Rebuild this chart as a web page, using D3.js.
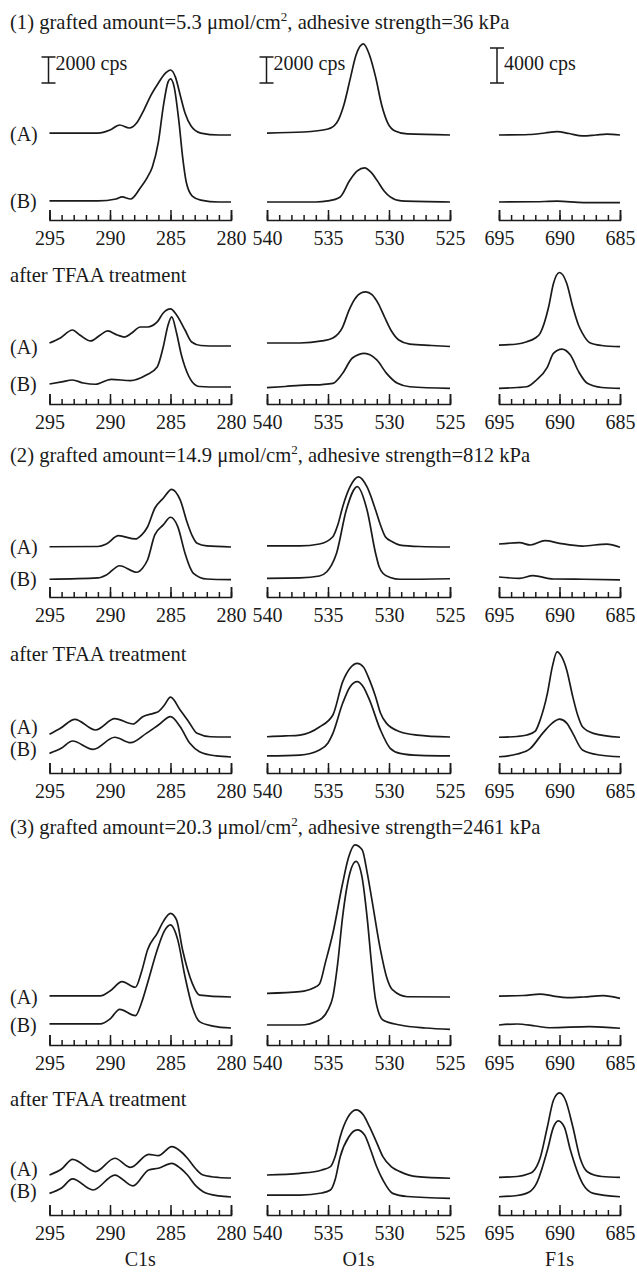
<!DOCTYPE html>
<html>
<head>
<meta charset="utf-8">
<script src="https://cdn.jsdelivr.net/npm/d3@7"></script>
<style>
  body { margin: 0; background: #fff; }
  svg { display: block; }
  text { font-family: "Liberation Serif", "Times New Roman", serif; fill: #1a1a1a; }
</style>
</head>
<body>
<svg width="637" height="1273"></svg>
<script>
// ---- Data: XPS spectra, [binding energy (eV), intensity (cps above baseline)]
const elements = ['C1s', 'O1s', 'F1s'];
const energyDomains = [[295, 280], [540, 525], [695, 685]];
const energyTicks = [[295, 290, 285, 280], [540, 535, 530, 525], [695, 690, 685]];
const scaleBarCps = [2000, 2000, 4000];
const sampleLabels = ['(A)', '(B)'];
const headings = [
    ['(1) grafted amount=5.3 \u03bcmol/cm', '2', ', adhesive strength=36 kPa'],
    ['after TFAA treatment'],
    ['(2) grafted amount=14.9 \u03bcmol/cm', '2', ', adhesive strength=812 kPa'],
    ['after TFAA treatment'],
    ['(3) grafted amount=20.3 \u03bcmol/cm', '2', ', adhesive strength=2461 kPa'],
    ['after TFAA treatment']
];

// (1) before TFAA
const c1s_1A = [[295,150],[291,150],[290,390],[289.2,770],[288.4,540],[287.8,920],[287.2,1920],[286.6,3080],[286,4000],[285.4,4770],[285,5000],[284.6,4470],[284.2,3080],[283.8,1690],[283.3,690],[282.5,150],[281,0],[280,0]];
const c1s_1B = [[295,80],[291,80],[289.5,230],[289,390],[288.3,230],[287.5,1080],[286.9,1920],[286.5,2700],[286,4620],[285.6,7320],[285.2,9240],[285,9470],[284.7,8860],[284.3,6160],[284,3470],[283.7,1540],[283.2,460],[282.5,150],[281,0],[280,0]];
const o1s_1A = [[540,150],[537,230],[535,460],[534.3,920],[533.7,2310],[533.2,4240],[532.7,6160],[532.1,7010],[531.6,6160],[531.1,4470],[530.6,2310],[530.1,920],[529.5,310],[528.5,80],[525,0]];
const o1s_1B = [[540,0],[536,0],[535,80],[534,390],[533.2,1690],[532.6,2390],[532,2620],[531.5,2310],[531,1690],[530.4,850],[529.9,390],[529,80],[525,0]];
const f1s_1A = [[695,0],[692.5,60],[691.2,230],[690.2,380],[689.2,170],[688.1,-110],[687,0],[686.1,110],[685,0]];
const f1s_1B = [[695,0],[692,30],[690.2,90],[688,-60],[685,-60]];

// (1) after TFAA
const c1s_2A = [[295,230],[294.1,620],[293.1,1230],[292.5,850],[291.6,390],[290.8,850],[290.2,1160],[289.4,850],[288.8,690],[288.2,1000],[287.5,1460],[286.9,1460],[286.1,1850],[285.6,2540],[285,2850],[284.5,2390],[283.8,1230],[283.25,310],[282.5,40],[281,0],[280,0]];
const c1s_2B = [[295,230],[294,390],[293.1,540],[292.2,310],[291.2,210],[289.9,590],[288.3,490],[287,920],[286.1,1540],[285.6,3080],[285.2,4770],[284.9,5390],[284.5,4160],[284.1,2460],[283.8,1540],[283.2,390],[282.6,40],[281,0],[280,0]];
const o1s_2A = [[540,230],[537.3,230],[535.5,390],[534.6,620],[533.8,1460],[533.3,2700],[532.8,3620],[532.3,4080],[531.9,4160],[531.4,3950],[530.9,3300],[530.4,2300],[529.8,1150],[529.2,460],[528.3,150],[526.5,40],[525,-40]];
const o1s_2B = [[540,-50],[538.5,40],[537.3,130],[535.5,190],[534.6,280],[533.8,1050],[533,2230],[532,2590],[531,2080],[530.2,1050],[529.3,280],[528.3,20],[525,-100]];
const f1s_2A = [[695,110],[693.5,230],[692.7,490],[692,910],[691.6,1450],[690.9,4450],[690.5,7150],[690,8400],[689.4,7150],[688.9,4450],[688.4,2280],[688.1,1450],[687.5,380],[686.5,60],[685,-80]];
const f1s_2B = [[695,-150],[693.5,-60],[692.7,30],[691.9,800],[691,2280],[690.5,3840],[689.8,4330],[689.1,3650],[688.4,1710],[687.7,420],[686.5,-60],[685,-150]];

// (2) before TFAA
const c1s_3A = [[295,20],[291,40],[290.3,230],[289.3,870],[287.9,620],[287.4,920],[286.9,1540],[286.3,2980],[285.6,3750],[284.9,4440],[284.2,3620],[283.6,1820],[283.2,850],[282.8,280],[282,80],[280,0]];
const c1s_3B = [[295,-20],[291,80],[290.3,310],[289.2,1020],[287.8,520],[287.3,850],[286.9,1460],[286.3,3390],[285.6,4160],[285,4750],[284.4,4030],[283.8,1980],[283.4,920],[283.1,440],[282,0],[280,-50]];
const o1s_3A = [[540,80],[537.3,80],[535.7,230],[534.6,790],[534.2,1690],[533.8,3080],[533.2,4620],[532.5,5390],[531.8,4620],[531.1,2850],[530.7,1690],[530.3,790],[529.7,390],[529.1,150],[527.5,40],[525,0]];
const o1s_3B = [[540,50],[537.3,80],[535.7,230],[535.1,560],[534.7,1080],[534.3,1980],[533.5,5310],[532.6,7110],[531.8,5310],[531.1,1980],[530.8,920],[530.5,440],[529.9,120],[529.1,-20],[525,20]];
const f1s_3A = [[695,340],[693.3,490],[692.4,230],[691.2,720],[690,420],[688.1,110],[686.1,340],[685,-30]];
const f1s_3B = [[695,230],[693.3,80],[692.2,380],[690.5,0],[688,-30],[685,-110]];

// (2) after TFAA
const c1s_4A = [[295,210],[294.1,670],[292.9,1360],[291.2,540],[289.6,1410],[288.1,1000],[287.3,1560],[286.4,1820],[286,1950],[285.5,2460],[285,3060],[284.2,2080],[283.5,1180],[282.8,280],[281.7,20],[280,0]];
const c1s_4B = [[295,280],[294,690],[293.1,1230],[291.4,590],[289.6,1520],[288.3,1100],[287,1820],[286,2460],[285,3100],[284.2,2330],[283.4,1050],[282.6,410],[281.2,80],[280,0]];
const o1s_4A = [[540,20],[538.5,80],[537.3,150],[535.7,770],[534.6,1690],[533.8,4240],[533.2,5290],[532.6,5670],[532.1,5390],[531.6,4390],[531.1,3100],[530.7,1850],[530.2,1050],[529.1,410],[527.7,150],[525,0]];
const o1s_4B = [[540,80],[537.3,150],[535.7,540],[535,1080],[534.6,1820],[533.8,4130],[533.2,5390],[532.6,5800],[532.1,5390],[531.6,4390],[530.7,2080],[529.9,670],[529.1,280],[527.5,120],[525,80]];
const f1s_4A = [[695,-30],[693.5,60],[692.7,230],[692,680],[691.6,1940],[691,4980],[690.6,7980],[690.2,9720],[689.8,9120],[689.4,7640],[688.9,4590],[688.5,2510],[688.1,1170],[687.2,420],[685,-30]];
const f1s_4B = [[695,30],[693.5,340],[692.4,990],[691.4,2700],[690.6,3880],[690,4330],[689.4,3880],[688.9,2700],[688.1,800],[686.7,230],[685,30]];

// (3) before TFAA
const c1s_5A = [[295,80],[290.8,80],[290,460],[289,1180],[287.9,750],[287.4,1920],[286.9,3620],[286.1,4900],[285.6,5800],[285,6440],[284.5,5930],[284,3620],[283.6,2160],[283.2,1050],[282.6,150],[280,0]];
const c1s_5B = [[295,310],[290.8,310],[290,690],[289.2,1440],[287.9,950],[287.4,1920],[286.9,3440],[286.1,6000],[285.5,7470],[285,7930],[284.4,6780],[283.8,3950],[283.2,1640],[282.6,490],[281.5,150],[280,0]];
const o1s_5A = [[540,280],[537.3,410],[536.2,690],[535.7,1000],[535.2,2700],[534.6,4900],[533.8,8750],[533.3,10780],[532.8,11700],[532.2,11320],[531.8,9630],[531.4,7470],[530.7,3620],[530.2,1540],[529.7,540],[528.5,20],[525,0]];
const o1s_5B = [[540,230],[537.3,230],[535.7,620],[535,1390],[534.6,2410],[534.2,5010],[533.8,8570],[533.2,11940],[532.7,12810],[532.2,11550],[531.8,8570],[531.4,4620],[531.1,2160],[530.5,620],[529.1,230],[527,0],[525,-100]];
const f1s_5A = [[695,110],[693,170],[691.6,340],[690.5,110],[689.4,-80],[688,0],[686.4,150],[685,-150]];
const f1s_5B = [[695,340],[693.5,460],[692,230],[690.8,30],[687.5,150],[685,-30]];

// (3) after TFAA
const c1s_6A = [[295,230],[294,690],[293.1,1440],[291.2,490],[289.6,1520],[288.3,820],[286.8,1820],[286,1720],[284.9,2410],[284.2,2080],[283.6,1520],[282.9,690],[282.3,230],[281,40],[280,0]];
const c1s_6B = [[295,280],[294,690],[293.1,1390],[291.4,540],[289.6,1690],[288.1,850],[286.8,2080],[286,2210],[284.9,2590],[284.2,2230],[283.6,1690],[282.9,850],[282.3,410],[281,80],[280,0]];
const o1s_6A = [[540,230],[537.3,360],[535.5,620],[534.8,870],[534.4,1690],[534,3180],[533.4,4620],[532.7,5240],[532.1,4850],[531.6,3950],[531,2700],[530.5,1640],[529.8,850],[529.1,490],[527.7,100],[525,-20]];
const o1s_6B = [[540,150],[537.3,150],[535.5,310],[534.8,540],[534.4,1390],[534,3100],[533.3,4620],[532.6,5160],[532,4770],[531.6,3870],[531,2310],[530.5,1310],[529.7,280],[528.5,40],[525,-100]];
const f1s_6A = [[695,80],[693.5,170],[692.6,460],[692.2,720],[691.6,2280],[691,5850],[690.5,8890],[690,9720],[689.5,8890],[688.9,5850],[688.3,2280],[687.7,720],[686.5,170],[685,80]];
const f1s_6B = [[695,30],[693.5,170],[692.5,570],[691.9,1560],[691,5360],[690.5,7980],[690.1,8700],[689.6,7980],[689.1,5360],[688.1,1560],[687.2,420],[685,30]];

// rows x columns x [A, B]
const spectra = [
    [[c1s_1A, c1s_1B], [o1s_1A, o1s_1B], [f1s_1A, f1s_1B]],
    [[c1s_2A, c1s_2B], [o1s_2A, o1s_2B], [f1s_2A, f1s_2B]],
    [[c1s_3A, c1s_3B], [o1s_3A, o1s_3B], [f1s_3A, f1s_3B]],
    [[c1s_4A, c1s_4B], [o1s_4A, o1s_4B], [f1s_4A, f1s_4B]],
    [[c1s_5A, c1s_5B], [o1s_5A, o1s_5B], [f1s_5A, f1s_5B]],
    [[c1s_6A, c1s_6B], [o1s_6A, o1s_6B], [f1s_6A, f1s_6B]]
];

// ---- Layout
const svg = d3.select('svg');
const ink = '#1a1a1a';
const fontSize = 20;
const headSize = 20.6;
const colX = [[49.5, 231], [267, 450], [499, 620]];
const barPx = [26, 26, 35];
const barX = [48.5, 266.5, 497];
const barBottom = 83;
const rows = [
    { heading: 29,   axis: 220,  base: [135, 202],   label: [135, 202] },
    { heading: 282,  axis: 404,  base: [346, 387],   label: [348, 385] },
    { heading: 462,  axis: 597,  base: [547, 579],   label: [548, 580] },
    { heading: 661,  axis: 773,  base: [737, 757],   label: [728, 750] },
    { heading: 834,  axis: 1045, base: [997, 1028],  label: [998, 1026] },
    { heading: 1106, axis: 1215, base: [1178, 1197], label: [1170, 1192] }
];

// ---- Escalas
const xScales = energyDomains.map((dom, i) => d3.scaleLinear().domain(dom).range(colX[i]));
const yScales = scaleBarCps.map((cps, i) => d3.scaleLinear().domain([0, cps]).range([0, -barPx[i]]));

// ---- Rows
rows.forEach((row, r) => {
    const head = svg.append('text')
        .attr('x', 10)
        .attr('y', row.heading)
        .attr('font-size', headSize);
    headings[r].forEach((part, j) => {
        const sup = j === 1;
        head.append('tspan')
            .attr('dy', j === 0 ? 0 : (sup ? -8 : 8))
            .attr('font-size', sup ? 13 : headSize)
            .text(part);
    });

    svg.selectAll(null)
        .data(sampleLabels)
        .join('text')
        .attr('x', 10)
        .attr('y', (d, k) => row.label[k] + 6)
        .attr('font-size', fontSize)
        .text(d => d);

    elements.forEach((el, c) => {
        const x = xScales[c];
        const y = yScales[c];

        // Eixo principal
        const g = svg.append('g')
            .attr('transform', `translate(0, ${row.axis})`)
            .call(d3.axisBottom(x)
                .tickValues(energyTicks[c])
                .tickSizeInner(-10)
                .tickSizeOuter(-10)
                .tickPadding(11)
                .tickFormat(d3.format('d')))
            .attr('font-size', fontSize)
            .attr('font-family', '"Liberation Serif", "Times New Roman", serif')
            .attr('color', ink);
        g.selectAll('line, path').attr('stroke-width', 1.5);

        // Ticks menores
        const lo = Math.min(...energyDomains[c]);
        const hi = Math.max(...energyDomains[c]);
        svg.append('g')
            .attr('transform', `translate(0, ${row.axis})`)
            .call(d3.axisBottom(x)
                .tickValues(d3.range(lo, hi + 1))
                .tickSize(-5)
                .tickFormat(''))
            .attr('color', ink)
            .call(a => a.select('.domain').remove())
            .selectAll('line').attr('stroke-width', 1.5);

        // Spectra
        spectra[r][c].forEach((trace, k) => {
            const line = d3.line()
                .x(d => x(d[0]))
                .y(d => row.base[k] + y(d[1]))
                .curve(d3.curveMonotoneX);
            svg.append('path')
                .datum(trace)
                .attr('d', line)
                .attr('fill', 'none')
                .attr('stroke', ink)
                .attr('stroke-width', 1.7)
                .attr('stroke-linejoin', 'round');
        });

        // Scale bars (first row only)
        if (r === 0) {
            const top = barBottom + y(scaleBarCps[c]);
            const bx = barX[c];
            svg.append('path')
                .attr('d', `M${bx - 7},${top}H${bx + 7}M${bx},${top}V${barBottom}M${bx - 7},${barBottom}H${bx + 7}`)
                .attr('fill', 'none')
                .attr('stroke', ink)
                .attr('stroke-width', 1.5);
            svg.append('text')
                .attr('x', bx + 7)
                .attr('y', 70)
                .attr('font-size', fontSize)
                .text(`${scaleBarCps[c]} cps`);
        }
    });
});

// ---- Element names
svg.selectAll('.elem')
    .data(elements)
    .join('text')
    .attr('class', 'elem')
    .attr('x', (d, i) => d3.mean(colX[i]))
    .attr('y', 1266)
    .attr('text-anchor', 'middle')
    .attr('font-size', fontSize)
    .text(d => d);
</script>
</body>
</html>
